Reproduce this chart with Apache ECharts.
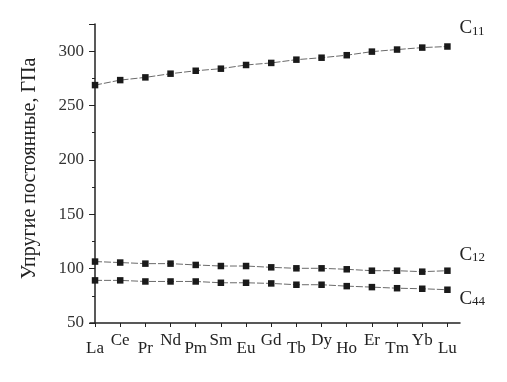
<!DOCTYPE html>
<html><head><meta charset="utf-8">
<script src="https://cdn.jsdelivr.net/npm/echarts@6/dist/echarts.min.js"></script>
<style>html,body{margin:0;padding:0;background:#fff}#c{width:507px;height:382px}</style>
</head><body><div id="c"></div>
<script>
var categories = ['La','Ce','Pr','Nd','Pm','Sm','Eu','Gd','Tb','Dy','Ho','Er','Tm','Yb','Lu'];
var c11 = [268.8,273.4,275.9,279.3,282.0,283.9,287.3,289.2,292.2,294.0,296.3,299.6,301.5,303.3,304.3];
var c12 = [106.5,105.6,104.6,104.6,103.4,102.4,102.4,101.2,100.3,100.3,99.4,98.1,98.1,97.2,98.1];
var c44 = [89.2,89.2,88.2,88.2,88.2,87.0,87.0,86.4,85.2,85.2,83.9,83.0,82.0,81.5,80.6];
var seriesNames = [['C','11'],['C','12'],['C','44']];
var yTicks = [50,100,150,200,250,300];

var font = 'Liberation Serif';
var idx = categories.map(function(_, i){ return i; });
function pts(arr){ return arr.map(function(v,i){ return [i,v]; }); }
var labelOffsets = [[4,-18],[4,-16],[4,9]];
function mk(arr, k){
  return {
    type:'line', data: pts(arr), symbol:'rect', symbolSize:6.5,
    itemStyle:{color:'#1a1a1a'},
    lineStyle:{color:'#444', width:0.8, type:[7,2]},
    endLabel:{show:true, offset:labelOffsets[k],
      formatter:'{m|'+seriesNames[k][0]+'}{s|'+seriesNames[k][1]+'}',
      rich:{m:{fontFamily:font,fontSize:19,color:'#222',verticalAlign:'bottom'},
            s:{fontFamily:font,fontSize:13,color:'#222',verticalAlign:'bottom'}}},
    animation:false, z:3
  };
}
var chart = echarts.init(document.getElementById('c'));
chart.setOption({
  animation:false,
  grid:{left:90, top:24, right:47, bottom:59},
  xAxis:{type:'value', min:-0.2, max:14.5,
    axisLine:{lineStyle:{color:'#222', width:1.5}},
    axisTick:{show:true, customValues: idx, length:4, inside:false, lineStyle:{color:'#222'}},
    splitLine:{show:false},
    axisLabel:{customValues: idx, margin:9, fontFamily:font, fontSize:17, color:'#222',
      formatter:function(v){ var i=Math.round(v); return i%2===0 ? '{lo|'+categories[i]+'}' : '{hi|'+categories[i]+'}'; },
      rich:{lo:{fontFamily:font,fontSize:17,color:'#222',padding:[8,0,0,0]},
            hi:{fontFamily:font,fontSize:17,color:'#222',padding:[0,0,8,0]}}}
  },
  yAxis:{type:'value', min:50, max:325, interval:50,
    name:'Упругие постоянные, ГПа', nameLocation:'middle', nameGap:50,
    nameTextStyle:{fontFamily:font, fontSize:20, color:'#222', padding:[0,0,0,10]},
    axisLine:{show:true, lineStyle:{color:'#222', width:1.5}},
    axisTick:{show:true, length:6, lineStyle:{color:'#222'}},
    minorTick:{show:true, splitNumber:2, length:3, lineStyle:{color:'#222'}},
    splitLine:{show:false},
    axisLabel:{margin:6, fontFamily:font, fontSize:17, color:'#333', showMaxLabel:false,
      formatter:function(v){ return yTicks.indexOf(v)>=0 ? String(v) : ''; }}
  },
  series:[mk(c11,0), mk(c12,1), mk(c44,2)]
});
</script></body></html>
